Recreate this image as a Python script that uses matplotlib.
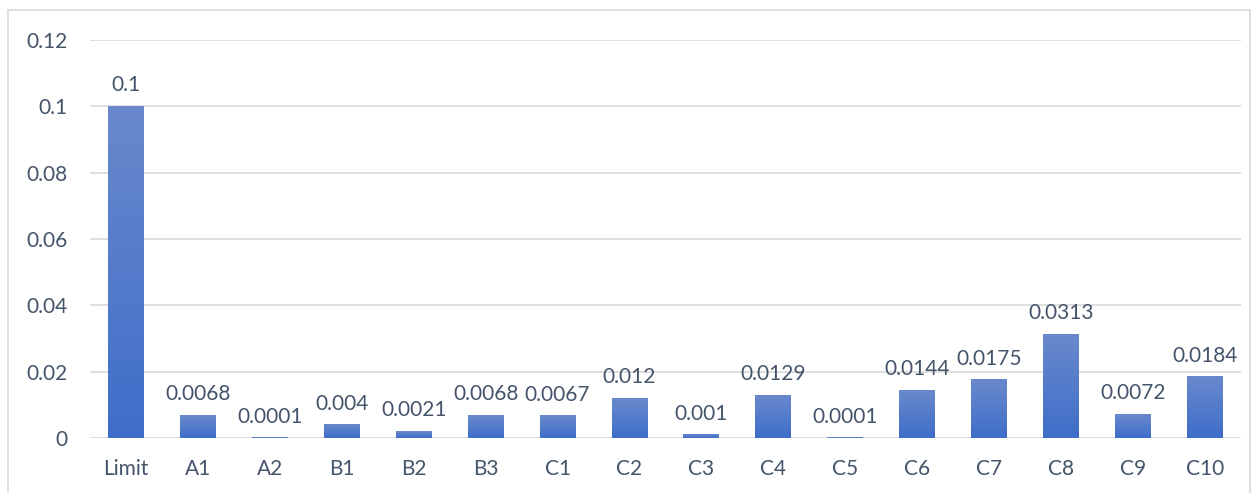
import numpy as np
import matplotlib
matplotlib.use('Agg')
import matplotlib.pyplot as plt
from matplotlib.colors import LinearSegmentedColormap
from matplotlib.patches import Rectangle

# Данные по образцам
categories = ['Limit', 'A1', 'A2', 'B1', 'B2', 'B3', 'C1', 'C2', 'C3', 'C4',
              'C5', 'C6', 'C7', 'C8', 'C9', 'C10']
values = [0.1, 0.0068, 0.0001, 0.004, 0.0021, 0.0068, 0.0067, 0.012, 0.001,
          0.0129, 0.0001, 0.0144, 0.0175, 0.0313, 0.0072, 0.0184]
value_labels = ['0.1', '0.0068', '0.0001', '0.004', '0.0021', '0.0068', '0.0067',
                '0.012', '0.001', '0.0129', '0.0001', '0.0144', '0.0175', '0.0313',
                '0.0072', '0.0184']
yticks = [0, 0.02, 0.04, 0.06, 0.08, 0.1, 0.12]
ytick_labels = ['0', '0.02', '0.04', '0.06', '0.08', '0.1', '0.12']

plt.rcParams['font.family'] = ['Lato', 'DejaVu Sans']
TEXT = '#44546a'
GRID = '#d9d9d9'
FS = 15

fig = plt.figure(figsize=(12.57, 4.93), dpi=100)
ax = fig.add_axes([90 / 1257, 1 - 438 / 493, 1151 / 1257, 398 / 493])

x = np.arange(len(categories))
bars = ax.bar(x, values, width=0.5, color='none', zorder=3)

# Вертикальный градиент внутри каждого столбца
grad = LinearSegmentedColormap.from_list('bar', ['#3e6ec9', '#6a89cc'])
g = np.linspace(0, 1, 256).reshape(-1, 1)
for b in bars:
    x0, w, h = b.get_x(), b.get_width(), b.get_height()
    ax.imshow(g, cmap=grad, origin='lower', aspect='auto',
              extent=(x0, x0 + w, 0, h), zorder=3)

for b, lab in zip(bars, value_labels):
    ax.annotate(lab, (b.get_x() + b.get_width() / 2, b.get_height()),
                xytext=(0, 8), textcoords='offset points',
                ha='center', va='bottom', fontsize=FS, color=TEXT)

ax.set_xlim(-0.5, len(categories) - 0.5)
ax.set_ylim(0, 0.12)
ax.set_yticks(yticks)
ax.set_yticklabels(ytick_labels)
ax.set_xticks(x)
ax.set_xticklabels(categories)
ax.tick_params(axis='both', length=0, labelsize=FS, labelcolor=TEXT)
ax.tick_params(axis='x', pad=15)
ax.tick_params(axis='y', pad=16)
ax.grid(axis='y', color=GRID, lw=1.2, zorder=0)
for s in ax.spines.values():
    s.set_visible(False)

# Рамка области диаграммы
fig.patches.append(Rectangle((8 / 1257, -0.1), 1242 / 1257, 1.1 - 10 / 493,
                             transform=fig.transFigure, fill=False,
                             edgecolor=GRID, lw=1.2))

fig.savefig('out.png', dpi=100)
